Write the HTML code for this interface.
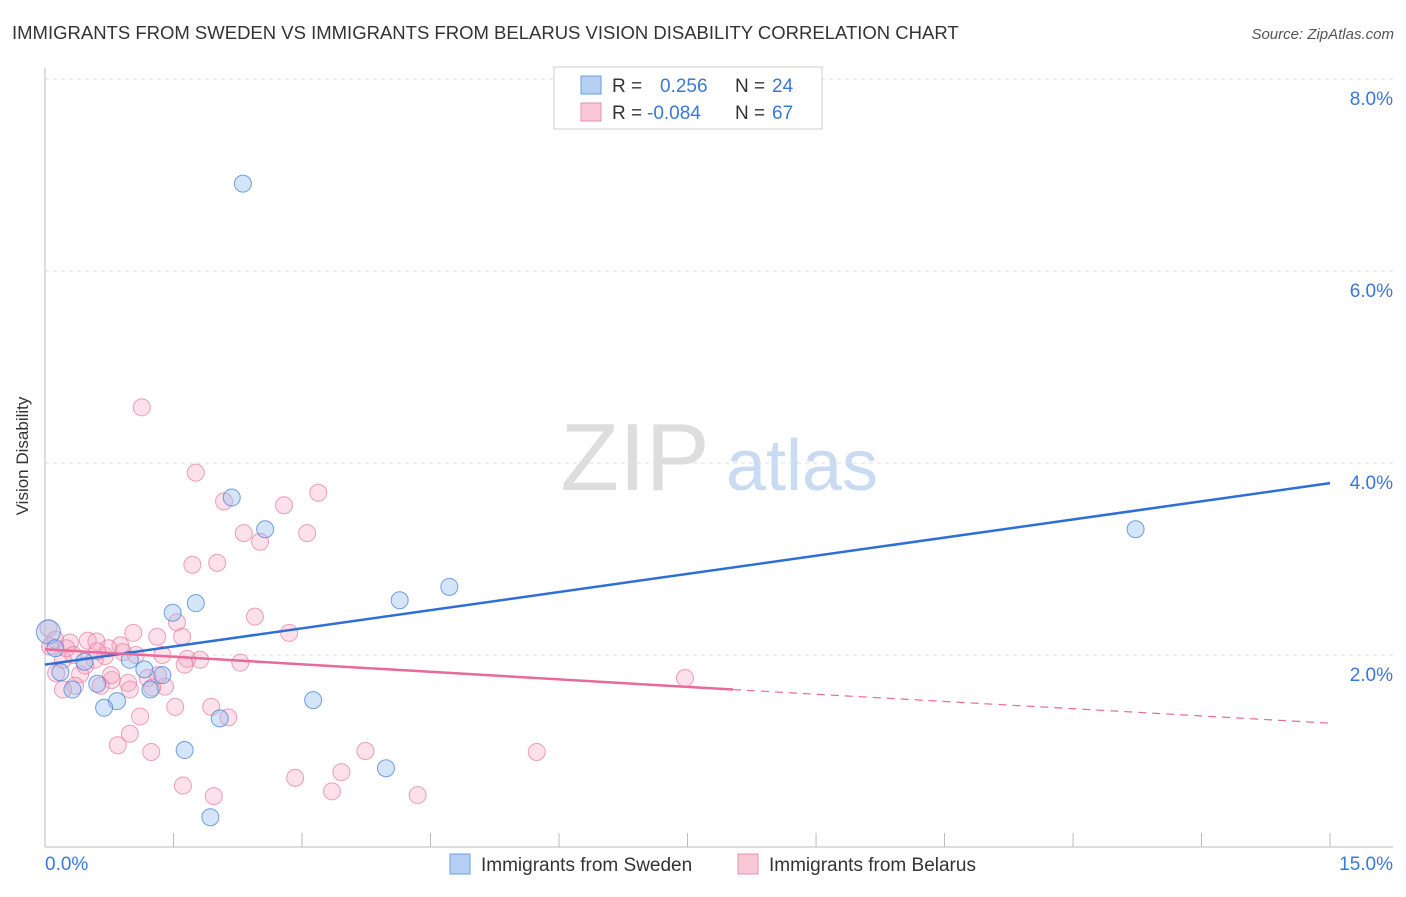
<!DOCTYPE html>
<html><head><meta charset="utf-8"><style>
body{margin:0;background:#fff;font-family:"Liberation Sans",sans-serif;}
svg text{font-family:"Liberation Sans",sans-serif;}
</style></head><body>
<svg width="1406" height="892" xmlns="http://www.w3.org/2000/svg" id="chart">
<text x="12" y="39" font-size="18.5" fill="#333">IMMIGRANTS FROM SWEDEN VS IMMIGRANTS FROM BELARUS VISION DISABILITY CORRELATION CHART</text>
<text x="1394" y="39" font-size="15" fill="#555" text-anchor="end" font-style="italic">Source: ZipAtlas.com</text>
<text x="28" y="456" font-size="17" fill="#333" text-anchor="middle" transform="rotate(-90 28 456)">Vision Disability</text>
<g>
<text x="635" y="490" font-size="96" fill="#ddd" text-anchor="middle" font-family="Liberation Serif">ZIP</text>
<text x="802" y="490" font-size="72" fill="#c9daf3" text-anchor="middle">atlas</text>
</g>
<g id="grid"></g><g id="axes"></g><g id="marks"></g>
<g>
<rect x="554" y="67" width="268" height="62" fill="#fff" stroke="#ccc"/>
<rect x="581" y="76" width="20" height="18" fill="#b6d0f3" stroke="#6a9de0"/>
<rect x="581" y="103" width="20" height="18" fill="#f9c8d7" stroke="#eb8fae"/>
<text x="612" y="92" font-size="19" fill="#333">R = </text><text x="660" y="92" font-size="19" fill="#3a78d8">0.256</text>
<text x="735" y="92" font-size="19" fill="#333">N = </text><text x="772" y="92" font-size="19" fill="#3a78d8">24</text>
<text x="612" y="119" font-size="19" fill="#333">R = </text><text x="647" y="119" font-size="19" fill="#3a78d8">-0.084</text>
<text x="735" y="119" font-size="19" fill="#333">N = </text><text x="772" y="119" font-size="19" fill="#3a78d8">67</text>
</g>
<g>
<rect x="450" y="854" width="20" height="20" fill="#b6d0f3" stroke="#6a9de0"/>
<text x="481" y="871" font-size="19" fill="#333">Immigrants from Sweden</text>
<rect x="738" y="854" width="20" height="20" fill="#f9c8d7" stroke="#eb8fae"/>
<text x="769" y="871" font-size="19" fill="#333">Immigrants from Belarus</text>
</g>
</svg>
<script>
const yTicks=[2,4,6,8];
const yTickLabels=["2.0%","4.0%","6.0%","8.0%"];
const xEndLabels=["0.0%","15.0%"];
const swedenX=[2.31,2.18,2.57,12.73,4.72,4.14,1.76,1.49,0.04,0.12,0.46,0.99,1.16,1.37,0.61,0.18,0.32,1.23,0.84,0.69,2.04,3.13,1.63,3.98,1.93];
const swedenY=[6.91,3.64,3.31,3.31,2.71,2.57,2.54,2.44,2.24,2.07,1.93,1.95,1.85,1.79,1.70,1.82,1.64,1.64,1.52,1.45,1.34,1.53,1.01,0.82,0.31];
const belarusX=[1.13,1.76,2.09,2.79,3.19,2.32,2.51,3.06,1.72,2.01,2.45,2.85,1.54,1.60,1.03,1.31,0.04,0.12,0.29,0.50,0.60,0.70,0.88,0.91,1.06,1.37,1.81,2.28,1.66,0.21,0.58,0.74,0.13,0.41,0.78,0.97,0.65,1.20,1.40,1.25,0.35,1.52,1.11,1.94,2.14,0.99,0.85,1.24,1.61,1.97,2.92,3.35,3.46,3.74,4.35,5.74,7.47,0.77,0.61,0.47,0.25,0.06,0.33,1.63,1.32,0.99,0.21];
const belarusY=[4.58,3.90,3.60,3.56,3.69,3.27,3.18,3.27,2.94,2.96,2.40,2.23,2.34,2.19,2.23,2.19,2.28,2.16,2.13,2.15,2.14,1.99,2.10,2.03,2.00,2.00,1.95,1.92,1.96,1.95,1.95,2.07,1.81,1.80,1.74,1.71,1.68,1.76,1.67,1.66,1.68,1.46,1.36,1.46,1.35,1.18,1.06,0.99,0.64,0.53,0.72,0.58,0.78,1.00,0.54,0.99,1.76,1.79,2.04,1.89,2.07,2.09,2.00,1.90,1.79,1.64,1.64];
const swedenTrend=[1.90,3.79];
const belarusTrend=[2.06,1.64,1.29];
const belarusSolidEnd=8.03;
const NS='http://www.w3.org/2000/svg';
const sx=v=>45+v*85.67, sy=v=>847-v*96;
function mk(tag,attrs,parent){const e=document.createElementNS(NS,tag);for(const k in attrs)e.setAttribute(k,attrs[k]);document.getElementById(parent).appendChild(e);return e;}
yTicks.forEach((t,i)=>{
 const g=mk('line',{x1:45,x2:1393,y1:sy(t),y2:sy(t),stroke:'#ddd','stroke-dasharray':'4,4'},'grid');
 
 
 const l=mk('text',{x:1393,y:sy(t)+26,'font-size':19,fill:'#3a78d8','text-anchor':'end'},'grid');
 l.textContent=yTickLabels[i];
 
 
});
const ya=mk('line',{x1:45,x2:45,y1:68,y2:847,stroke:'#bbb'},'axes');


const xa=mk('line',{x1:45,x2:1393,y1:847,y2:847,stroke:'#bbb'},'axes');


for(let i=0;i<=10;i++){
 const t=mk('line',{x1:sx(i*1.5),x2:sx(i*1.5),y1:833,y2:847,stroke:'#bbb'},'axes');
 
 
}
[[0,'start',45],[15,'end',1393]].forEach((d,i)=>{
 const l=mk('text',{x:d[2],y:870,'font-size':19,fill:'#3a78d8','text-anchor':d[1]},'axes');
 l.textContent=xEndLabels[i];
 
 
});
belarusX.forEach((x,i)=>{
 const c=mk('circle',{cx:sx(x),cy:sy(belarusY[i]),r:8.5,fill:'rgba(246,168,194,0.35)',stroke:'rgba(232,120,160,0.7)','stroke-width':1},'marks');
 
 
});
swedenX.forEach((x,i)=>{
 const c=mk('circle',{cx:sx(x),cy:sy(swedenY[i]),r:i==8?12:8.5,fill:'rgba(150,190,240,0.4)',stroke:'rgba(70,130,215,0.75)','stroke-width':1},'marks');
 
 
});
const tb=mk('line',{x1:sx(0),y1:sy(swedenTrend[0]),x2:sx(15),y2:sy(swedenTrend[1]),stroke:'#2e6fd6','stroke-width':2.5},'marks');


const tp=mk('line',{x1:sx(0),y1:sy(belarusTrend[0]),x2:sx(belarusSolidEnd),y2:sy(belarusTrend[1]),stroke:'#e8699a','stroke-width':2.5},'marks');


const td=mk('line',{x1:sx(belarusSolidEnd),y1:sy(belarusTrend[1]),x2:sx(15),y2:sy(belarusTrend[2]),stroke:'#e8699a','stroke-width':1.2,'stroke-dasharray':'8,6'},'marks');


</script>
</body></html>
